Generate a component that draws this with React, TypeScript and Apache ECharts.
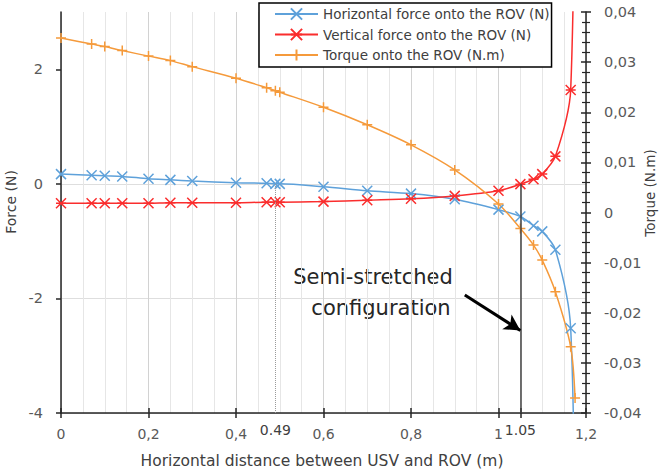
import React, { useEffect, useRef } from 'react';
import * as echarts from 'echarts';

// Horizontal distance between USV and ROV (m)
const distance = [0, 0.07, 0.1, 0.14, 0.2, 0.25, 0.3, 0.4, 0.47, 0.49, 0.5, 0.6, 0.7, 0.8, 0.9, 1.0, 1.05, 1.08, 1.1, 1.13, 1.165, 1.175];
// Horizontal force onto the ROV (N)
const horizontalForce = [0.17, 0.15, 0.14, 0.13, 0.09, 0.07, 0.05, 0.02, 0.01, 0.0, 0.0, -0.05, -0.12, -0.17, -0.27, -0.45, -0.57, -0.73, -0.83, -1.15, -2.52, -8];
// Vertical force onto the ROV (N)
const verticalForce = [-0.34, -0.34, -0.34, -0.34, -0.34, -0.33, -0.33, -0.33, -0.32, -0.32, -0.32, -0.31, -0.285, -0.26, -0.21, -0.12, -0.005, 0.08, 0.17, 0.48, 1.64, 8];
// Torque onto the ROV (N.m)
const torque = [0.0348, 0.0336, 0.0331, 0.0323, 0.0312, 0.0303, 0.0291, 0.0268, 0.0249, 0.0243, 0.024, 0.021, 0.0175, 0.0135, 0.0085, 0.0017, -0.0032, -0.0065, -0.0095, -0.0158, -0.0268, -0.037];

const xTicks = [0, 0.2, 0.4, 0.6, 0.8, 1, 1.05, 1.2];
const forceTicks = [-4, -2, 0, 2];
const dottedDistance = 0.49;
const stretchedDistance = 1.05;
const arrowFrom = [0.923, -1.94];
const arrowTo = [1.05, -2.56];

const seriesNames = ['Horizontal force onto the ROV (N)', 'Vertical force onto the ROV (N)', 'Torque onto the ROV (N.m)'];

const FONT = 'DejaVu Sans';
const BLUE = '#5EA1DA';
const RED = '#FA2D2D';
const ORANGE = '#F59A3B';
const AXIS = '#262626';
const LABEL = '#595959';

const CROSS = 'path://M0,0L10,10M10,0L0,10';
const STAR = 'path://M0,0L10,10M10,0L0,10M0,5L10,5';
const PLUS = 'path://M5,0L5,10M0,5L10,5';

const comma = (v: number) => String(Number(v.toFixed(4))).replace('.', ',');

export default function App() {
  const ref = useRef<HTMLDivElement>(null);
  useEffect(() => {
    const chart = echarts.init(ref.current!, null, { renderer: 'svg' });
    const pts = (ys: number[]) => distance.map((x, i) => [x, ys[i]]);
    const lineSeries = (name: string, ys: number[], color: string, symbol: string, yAxisIndex: number, extra: any = {}) => ({
      name,
      type: 'line',
      data: pts(ys),
      xAxisIndex: 0,
      yAxisIndex,
      smooth: 0.3,
      clip: true,
      symbol,
      symbolSize: 10,
      showAllSymbol: true,
      lineStyle: { color, width: 1.5 },
      itemStyle: { color, borderColor: color, borderWidth: 1.5 },
      emphasis: { disabled: true },
      ...extra,
    });
    chart.setOption({
      animation: false,
      backgroundColor: '#ffffff',
      textStyle: { fontFamily: FONT },
      grid: { left: 61, right: 73, top: 12, bottom: 58 },
      legend: {
        orient: 'vertical',
        left: 259,
        top: 3,
        itemWidth: 43,
        itemHeight: 14,
        itemGap: 6.5,
        padding: [4, 2, 5, 15],
        backgroundColor: '#ffffff',
        borderColor: '#000000',
        borderWidth: 1.5,
        borderRadius: 0,
        selectedMode: false,
        textStyle: { fontSize: 13.5, color: '#404040', fontFamily: FONT },
        data: seriesNames,
      },
      xAxis: [
        {
          type: 'value', min: 0, max: 1.2, interval: 0.2, position: 'bottom',
          axisLine: { show: true, onZero: false, lineStyle: { color: AXIS, width: 1.5 } },
          axisTick: { show: true, length: 5, customValues: xTicks, lineStyle: { color: AXIS, width: 1.5 } },
          axisLabel: { margin: 14, fontSize: 14, color: LABEL, fontFamily: FONT, formatter: comma },
          splitLine: { show: true, lineStyle: { color: '#d2d2d2', width: 1 } },
          minorTick: { show: false, splitNumber: 4 },
          minorSplitLine: { show: true, lineStyle: { color: '#e6e6e6', width: 1 } },
        },
        {
          type: 'value', min: 0, max: 1.2, interval: 0.2, position: 'bottom',
          axisLine: { show: false, onZero: false },
          axisTick: { show: true, inside: true, length: 5, customValues: xTicks, lineStyle: { color: AXIS, width: 1.5 } },
          axisLabel: { show: false },
          splitLine: { show: false },
        },
      ],
      yAxis: [
        {
          type: 'value', min: -4, max: 3, interval: 0.5, position: 'left',
          axisLine: { show: true, onZero: false, lineStyle: { color: AXIS, width: 1.5 } },
          axisTick: { show: true, length: 5, customValues: forceTicks, lineStyle: { color: AXIS, width: 1.5 } },
          axisLabel: { customValues: forceTicks, margin: 18, fontSize: 14.5, color: LABEL, fontFamily: FONT, formatter: comma },
          splitLine: { show: true, showMaxLine: false, lineStyle: { color: '#dedede', width: 1 } },
        },
        {
          type: 'value', min: -0.04, max: 0.04, interval: 0.01, position: 'right',
          axisLine: { show: true, onZero: false, lineStyle: { color: AXIS, width: 1.5 } },
          axisTick: { show: true, length: 5, lineStyle: { color: AXIS, width: 1.5 } },
          minorTick: { show: true, splitNumber: 5, length: 4, lineStyle: { color: AXIS, width: 1.2 } },
          axisLabel: { margin: 18, fontSize: 14.5, color: LABEL, fontFamily: FONT, formatter: comma },
          splitLine: { show: false },
        },
        {
          type: 'value', min: -0.04, max: 0.04, interval: 0.01, position: 'right',
          axisLine: { show: false, onZero: false },
          axisTick: { show: true, inside: true, length: 5, lineStyle: { color: AXIS, width: 1.5 } },
          minorTick: { show: true, splitNumber: 5, length: 4, lineStyle: { color: AXIS, width: 1.2 } },
          axisLabel: { show: false },
          splitLine: { show: false },
        },
      ],
      series: [
        lineSeries(seriesNames[0], horizontalForce, BLUE, CROSS, 0, {
          markLine: {
            silent: true,
            animation: false,
            data: [
              [
                {
                  coord: [dottedDistance, -4], symbol: 'none',
                  lineStyle: { color: '#9a9a9a', width: 1, type: 'dotted' },
                  label: { show: true, position: 'start', distance: 10, formatter: String(dottedDistance), fontSize: 14, color: '#404040', fontFamily: FONT },
                },
                { coord: [dottedDistance, 0], symbol: 'none' },
              ],
              [
                {
                  coord: [stretchedDistance, -4], symbol: 'none',
                  lineStyle: { color: '#404040', width: 1.5, type: 'solid' },
                  label: { show: true, position: 'start', distance: 10, formatter: stretchedDistance.toFixed(2), fontSize: 14, color: '#404040', fontFamily: FONT },
                },
                { coord: [stretchedDistance, 0], symbol: 'none' },
              ],
              [
                {
                  coord: arrowFrom, symbol: 'none',
                  lineStyle: { color: '#000000', width: 3, type: 'solid' },
                  label: { show: false },
                },
                { coord: arrowTo, symbol: 'arrow', symbolSize: [13, 16] },
              ],
            ],
          },
        }),
        lineSeries(seriesNames[1], verticalForce, RED, STAR, 0),
        lineSeries(seriesNames[2], torque, ORANGE, PLUS, 1),
      ],
      graphic: [
        { type: 'text', x: 373, y: 277, style: { text: 'Semi-stretched', fontSize: 21, fontFamily: FONT, fill: '#262626', align: 'center', verticalAlign: 'middle' } },
        { type: 'text', x: 381, y: 308, style: { text: 'configuration', fontSize: 21, fontFamily: FONT, fill: '#262626', align: 'center', verticalAlign: 'middle' } },
        { type: 'text', x: 11, y: 202, rotation: Math.PI / 2, style: { text: 'Force (N)', fontSize: 14, fontFamily: FONT, fill: '#404040', align: 'center', verticalAlign: 'middle' } },
        { type: 'text', x: 650, y: 193, rotation: Math.PI / 2, style: { text: 'Torque (N.m)', fontSize: 13.5, fontFamily: FONT, fill: '#404040', align: 'center', verticalAlign: 'middle' } },
        { type: 'text', x: 322, y: 461, style: { text: 'Horizontal distance between USV and ROV (m)', fontSize: 15.5, fontFamily: FONT, fill: '#404040', align: 'center', verticalAlign: 'middle' } },
      ],
    });
    return () => chart.dispose();
  }, []);
  return <div ref={ref} style={{ position: 'fixed', left: 0, top: 0, width: 659, height: 471 }} />;
}
